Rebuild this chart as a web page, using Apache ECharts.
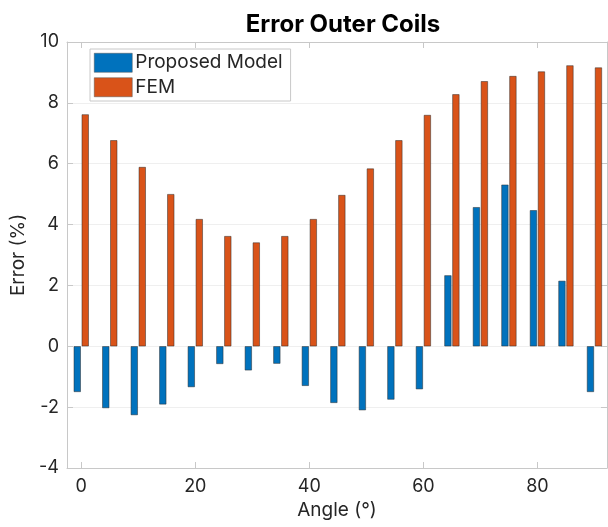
<!DOCTYPE html>
<html>
<head>
<meta charset="utf-8">
<script src="https://cdn.jsdelivr.net/npm/echarts@6/dist/echarts.min.js"></script>
<style>
  html, body { margin: 0; padding: 0; background: #fff; }
  #chart { width: 608px; height: 527px; }
</style>
</head>
<body>
<div id="chart"></div>
<script>
const angles = [0, 5, 10, 15, 20, 25, 30, 35, 40, 45, 50, 55, 60, 65, 70, 75, 80, 85, 90];
const proposedModel = [-1.50, -2.03, -2.26, -1.91, -1.34, -0.58, -0.79, -0.57, -1.30, -1.86, -2.10, -1.75, -1.41, 2.33, 4.57, 5.31, 4.47, 2.15, -1.50];
const fem = [7.62, 6.77, 5.89, 5.00, 4.18, 3.62, 3.41, 3.62, 4.18, 4.97, 5.84, 6.77, 7.60, 8.28, 8.71, 8.88, 9.03, 9.23, 9.16];
const xTicks = [0, 20, 40, 60, 80];

const FONT = 'Inter';
const TXT = '#262626';
const AXIS = '#c8c8c8';

const chart = echarts.init(document.getElementById('chart'), null, { renderer: 'canvas' });

const barStyle = color => ({ color: color, borderColor: '#2a2a2a', borderWidth: 0.5 });

const option = {
  animation: false,
  backgroundColor: '#fff',
  textStyle: { fontFamily: FONT },
  title: {
    text: 'Error Outer Coils',
    left: 338, top: 8, textAlign: 'center',
    textStyle: { fontFamily: FONT, fontWeight: 'bold', fontSize: 24, color: '#000' }
  },
  legend: {
    orient: 'vertical',
    left: 90, top: 49,
    padding: [4, 8, 4, 4],
    itemWidth: 38, itemHeight: 19, itemGap: 5,
    backgroundColor: '#fff',
    borderColor: AXIS, borderWidth: 1,
    icon: 'rect',
    itemStyle: { borderWidth: 0.5, borderColor: '#555' },
    textStyle: { fontFamily: FONT, fontSize: 19, color: TXT, padding: [0, 0, 0, -2] },
    data: ['Proposed Model', 'FEM']
  },
  grid: { left: 67, right: 1, top: 42, bottom: 59 },
  xAxis: [{
    type: 'value', min: -2.5, max: 92.2,
    name: 'Angle (°)', nameLocation: 'middle', nameGap: 31,
    nameTextStyle: { fontFamily: FONT, fontSize: 19, color: TXT },
    axisLine: { onZero: false, lineStyle: { color: AXIS, width: 1 } },
    axisTick: { inside: true, length: 6, customValues: xTicks, lineStyle: { color: AXIS } },
    axisLabel: { customValues: xTicks, fontFamily: FONT, fontSize: 18, color: TXT, margin: 10 },
    splitLine: { show: false }
  }, {
    type: 'value', position: 'top', min: -2.5, max: 92.2,
    axisLine: { onZero: false, lineStyle: { color: AXIS, width: 1 } },
    axisTick: { inside: true, length: 6, customValues: xTicks, lineStyle: { color: AXIS } },
    axisLabel: { show: false },
    splitLine: { show: false }
  }],
  yAxis: [{
    type: 'value', min: -4, max: 10, interval: 2,
    name: 'Error (%)', nameLocation: 'middle', nameGap: 30,
    nameTextStyle: { fontFamily: FONT, fontSize: 19, color: TXT },
    axisLine: { show: true, onZero: false, lineStyle: { color: AXIS, width: 1 } },
    axisTick: { show: true, inside: true, length: 6, lineStyle: { color: AXIS } },
    axisLabel: { fontFamily: FONT, fontSize: 18, color: TXT, margin: 8 },
    splitLine: { show: true, lineStyle: { color: '#efefef', width: 1 } }
  }, {
    type: 'value', position: 'right', min: -4, max: 10, interval: 2,
    axisLine: { show: true, onZero: false, lineStyle: { color: AXIS, width: 1 } },
    axisTick: { show: true, inside: true, length: 6, lineStyle: { color: AXIS } },
    axisLabel: { show: false },
    splitLine: { show: false }
  }],
  series: [{
    name: 'Proposed Model', type: 'bar',
    barWidth: 7, barGap: '14%',
    itemStyle: barStyle('#0072BD'),
    data: angles.map((a, i) => [a, proposedModel[i]])
  }, {
    name: 'FEM', type: 'bar',
    barWidth: 7, barGap: '14%',
    itemStyle: barStyle('#D95319'),
    data: angles.map((a, i) => [a, fem[i]])
  }]
};

chart.setOption(option);
</script>
</body>
</html>
